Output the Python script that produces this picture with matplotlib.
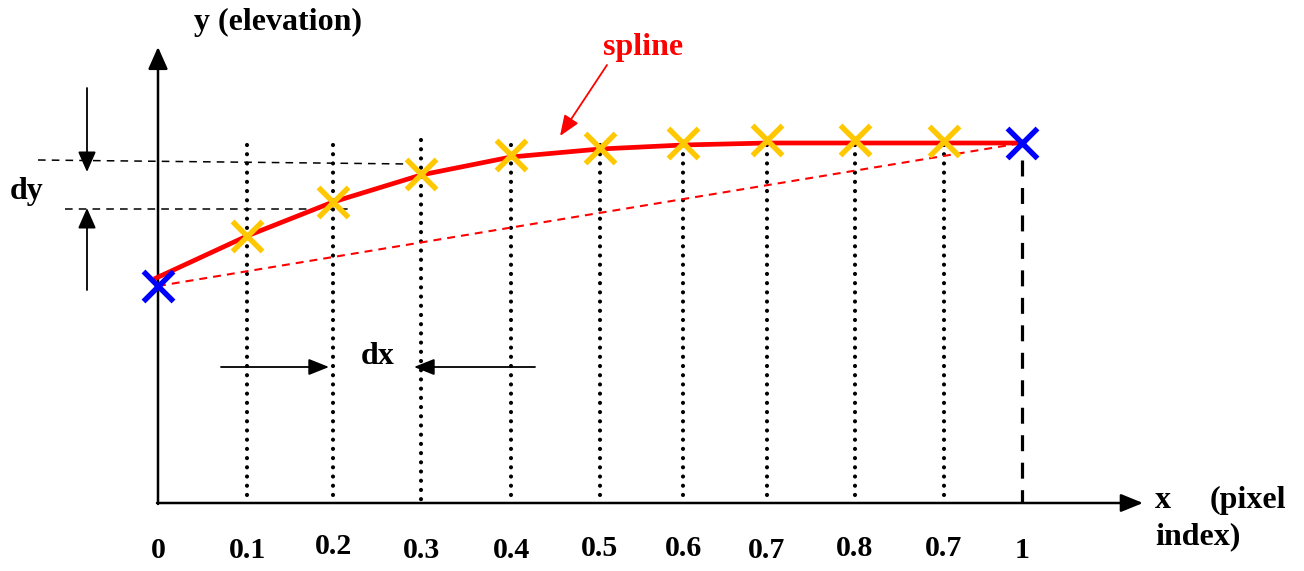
#!/usr/bin/env python3
"""
Spline sampling diagram: elevation y vs. pixel index x.
Drawn on a pixel-sized canvas so positions follow the reference picture.
"""

import matplotlib
matplotlib.use("Agg")
import matplotlib.pyplot as plt

matplotlib.rcParams.update({
    "font.family": ["Liberation Serif", "DejaVu Serif"],
    "font.weight": "bold",
})

# ─────────────────────────────────────────────────────────────────────────────
# values (canvas pixels, y grows downward)
TICK_LABELS = ["0", "0.1", "0.2", "0.3", "0.4", "0.5", "0.6", "0.7", "0.8", "0.7", "1"]
GRID_X      = [158, 247, 333, 421, 511, 600, 683, 767, 855, 944, 1022]
TICK_Y      = [550, 550, 547, 550, 550, 549, 549, 550, 549, 549, 550]
KNOT_Y      = [236, 202, 174, 155, 148, 143, 140, 140, 141]       # yellow x's
END_Y       = [286, 143]                                          # blue x's
SPLINE_Y    = [279, 236, 202, 175, 157, 149, 145, 143, 143, 143, 143]
DOT_TOP     = [145, 145, 140, 145, 145, 145, 145, 145, 145]

X_AXIS_Y = 503
YELLOW = "#FFC800"
BLUE = "#0000FF"
RED = "#FF0000"
FS = 21.5   # tick labels
LFS = 23    # annotation text
# ─────────────────────────────────────────────────────────────────────────────


def arrow(ax, start, tip, lw=1.6, color="black", hl=1.3, hw=0.6):
    ax.annotate("", xy=tip, xytext=start,
                arrowprops=dict(arrowstyle=f"-|>,head_length={hl},head_width={hw}",
                                lw=lw, color=color, shrinkA=0, shrinkB=0,
                                mutation_scale=10))


def main() -> None:
    fig = plt.figure(figsize=(13.04, 5.71), dpi=100)
    ax = fig.add_axes([0, 0, 1, 1])
    ax.set_xlim(0, 1304)
    ax.set_ylim(571, 0)
    ax.axis("off")

    x0, x1 = GRID_X[0], GRID_X[-1]

    # axes with arrow heads
    arrow(ax, (x0, X_AXIS_Y + 1), (x0, 47), lw=1.8, hl=1.35, hw=0.6)
    arrow(ax, (x0 - 1, X_AXIS_Y), (1143, X_AXIS_Y), lw=1.8, hl=1.35, hw=0.55)

    # dotted sample lines
    for gx, top in zip(GRID_X[1:-1], DOT_TOP):
        ax.plot([gx, gx], [top, X_AXIS_Y], color="black", lw=3,
                linestyle=(0, (0.01, 2.2)), dash_capstyle="round", zorder=2)
    # dashed end line
    ax.plot([x1, x1], [160, X_AXIS_Y], color="black", lw=2.3,
            linestyle=(0, (5.0, 3.6)), zorder=2)

    # straight chord between end points
    ax.plot([x0, x1], END_Y, color=RED, lw=1.5, linestyle=(0, (3.8, 2.9)), zorder=3)
    # spline
    ax.plot([x0 - 4] + GRID_X[1:], SPLINE_Y, color=RED, lw=3.4, zorder=4,
            solid_capstyle="butt", solid_joinstyle="round")

    # sample markers
    ax.plot(GRID_X[1:-1], KNOT_Y, linestyle="none", marker="x", ms=21,
            mew=3.9, color=YELLOW, zorder=5)
    ax.plot([x0, x1], END_Y, linestyle="none", marker="x", ms=21,
            mew=3.9, color=BLUE, zorder=6)

    # tick labels
    for gx, ty, lab in zip(GRID_X, TICK_Y, TICK_LABELS):
        ax.text(gx, ty, lab, ha="center", va="center", fontsize=FS)

    # axis titles
    ax.text(278, 22, "y (elevation)", ha="center", va="center", fontsize=LFS)
    ax.text(1155, 500, "x", ha="left", va="center", fontsize=LFS)
    ax.text(1286, 500, "(pixel", ha="right", va="center", fontsize=LFS)
    ax.text(1155, 537, "index)", ha="left", va="center", fontsize=LFS)

    # dy construction
    ax.plot([38, 410], [160, 164], color="black", lw=1.1, linestyle=(0, (5, 4)))
    ax.plot([65, 352], [209, 209], color="black", lw=1.1, linestyle=(0, (5, 4)))
    arrow(ax, (87, 88), (87, 172), lw=1.3, hl=1.25, hw=0.55)
    arrow(ax, (87, 290), (87, 208), lw=1.3, hl=1.25, hw=0.55)
    ax.text(27, 192, "dy", ha="center", va="center", fontsize=LFS)

    # dx construction
    arrow(ax, (221, 367), (329, 367), lw=1.3, hl=1.25, hw=0.5)
    arrow(ax, (535, 367), (414, 367), lw=1.3, hl=1.25, hw=0.5)
    ax.text(378, 357, "dx", ha="center", va="center", fontsize=LFS)

    # spline callout
    ax.text(643, 47, "spline", ha="center", va="center", fontsize=LFS, color=RED)
    arrow(ax, (607, 65), (560, 136), lw=1.3, color=RED, hl=1.25, hw=0.5)

    fig.savefig("out.png", dpi=100)
    plt.close(fig)


if __name__ == "__main__":
    main()
